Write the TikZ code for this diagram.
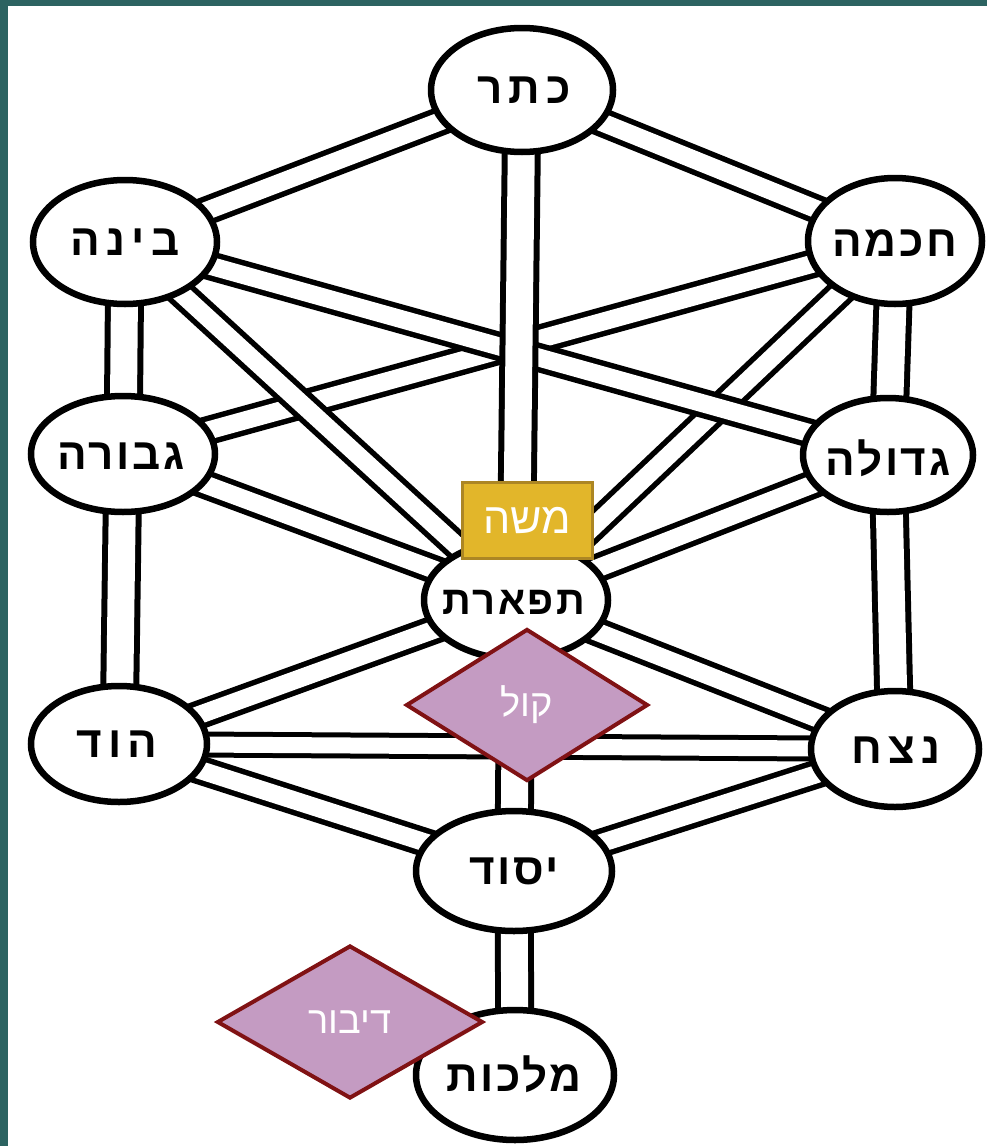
\documentclass[tikz,border=0pt]{standalone}
\usepackage{fontspec}
\usetikzlibrary{shapes.geometric}
\TeXXeTstate=1
\newfontfamily\hebfont[Script=Hebrew,LetterSpace=6]{Liberation Sans}
\newfontfamily\hebwide[Script=Hebrew,LetterSpace=14]{Liberation Sans}
\newfontfamily\labfont[Script=Hebrew]{Liberation Sans}
\definecolor{slideteal}{RGB}{44,99,97}
\definecolor{boxgold}{RGB}{226,182,42}
\definecolor{boxgoldedge}{RGB}{172,134,36}
\definecolor{dmfill}{RGB}{196,155,194}
\definecolor{dmedge}{RGB}{128,18,20}
\pgfdeclarelayer{back}
\pgfdeclarelayer{links}
\pgfsetlayers{back,links,main}
\tikzset{
  sefira/.style={ellipse, draw=black, line width=6.5pt, fill=white, inner sep=0pt},
  sefitext/.style={inner sep=0pt, font=\hebfont\bfseries\fontsize{44}{50}\selectfont},
  sefiwide/.style={inner sep=0pt, font=\hebwide\bfseries\fontsize{44}{50}\selectfont},
  sefinarrow/.style={inner sep=0pt, font=\hebfont\bfseries\fontsize{40}{46}\selectfont},
  link/.style={draw=black, line width=5.5pt, double=white, double distance=18pt},
  vlink/.style={draw=black, line width=6pt, double=white, double distance=27pt},
  hlink/.style={draw=black, line width=5pt, double=white, double distance=16pt},
  namebox/.style={rectangle, fill=boxgold, draw=boxgoldedge, line width=3pt, inner sep=0pt,
    minimum width=130pt, minimum height=76pt, text=white, font=\labfont\fontsize{43}{48}\selectfont},
  speech/.style={diamond, fill=dmfill, draw=dmedge, line width=4pt, inner sep=0pt,
    text=white, font=\labfont\fontsize{38}{42}\selectfont}
}
\begin{document}
\begin{tikzpicture}[x=1pt,y=-1pt]
\clip (0,0) rectangle (987,1146);
\useasboundingbox (0,0) rectangle (987,1146);
\begin{pgfonlayer}{back}
  \fill[slideteal] (0,0) rectangle (987,1146);
  \fill[white] (8,6) rectangle (987,1146);
\end{pgfonlayer}

% sefirot
\node[sefira, minimum width=182pt, minimum height=124pt] (keter)   at (522,90)  {};
\node[sefira, minimum width=184pt, minimum height=124pt] (bina)    at (125,242) {};
\node[sefira, minimum width=174pt, minimum height=126pt] (chochma) at (895,241) {};
\node[sefira, minimum width=184pt, minimum height=116pt] (gevura)  at (123,454) {};
\node[sefira, minimum width=170pt, minimum height=114pt] (gedula)  at (888,455) {};
\node[sefira, minimum width=184pt, minimum height=118pt] (tiferet) at (516,600) {};
\node[sefira, minimum width=176pt, minimum height=116pt] (hod)     at (119,744) {};
\node[sefira, minimum width=168pt, minimum height=116pt] (netzach) at (895,749) {};
\node[sefira, minimum width=196pt, minimum height=120pt] (yesod)   at (514,871) {};
\node[sefira, minimum width=198pt, minimum height=130pt] (malchut) at (515,1075) {};

\node[sefiwide] (keter-t)   at (524,90)  {\beginR כתר\endR};
\node[sefiwide] (bina-t)    at (bina)    {\beginR בינה\endR};
\node[sefitext] (chochma-t) at (895,243) {\beginR חכמה\endR};
\node[sefitext] (gevura-t)  at (121,456) {\beginR גבורה\endR};
\node[sefitext] (gedula-t)  at (888,458) {\beginR גדולה\endR};
\node[sefinarrow] (tiferet-t) at (514,602) {\beginR תפארת\endR};
\node[sefiwide] (hod-t)     at (117,744) {\beginR הוד\endR};
\node[sefiwide] (netzach-t) at (896,750) {\beginR נצח\endR};
\node[sefitext] (yesod-t)   at (yesod)   {\beginR יסוד\endR};
\node[sefitext] (malchut-t) at (514,1074) {\beginR מלכות\endR};

% connectors
\begin{pgfonlayer}{links}
  \draw[link] (keter.center) -- (bina.center);
  \draw[link] (keter.center) -- (chochma.center);
  \draw[link] (chochma.center) -- (gevura.center);
  \draw[link] (chochma.center) -- (tiferet.center);
  \draw[link] (bina.center) -- (gedula.center);
  \draw[link] (bina.center) -- (tiferet.center);
  \draw[link] (gevura.center) -- (tiferet.center);
  \draw[link] (gedula.center) -- (tiferet.center);
  \draw[vlink] (keter.center) -- (tiferet.center);
  \draw[vlink] (bina.center) -- (gevura.center);
  \draw[vlink] (chochma.center) -- (gedula.center);
  \draw[vlink] (gevura.center) -- (hod.center);
  \draw[vlink] (gedula.center) -- (netzach.center);
  \draw[link] (tiferet.center) -- (hod.center);
  \draw[link] (tiferet.center) -- (netzach.center);
  \draw[hlink] (hod.center) -- (netzach.center);
  \draw[link] (hod.center) -- (yesod.center);
  \draw[link] (netzach.center) -- (yesod.center);
  \draw[vlink] (tiferet.center) -- (yesod.center);
  \draw[vlink] (yesod.center) -- (malchut.center);
\end{pgfonlayer}

% overlays
\node[namebox] (moshe) at (527.5,520.5) {\beginR משה\endR};
\node[speech, minimum width=242pt, minimum height=152pt] (kol) at (527,705) {\beginR קול\endR};
\node[speech, minimum width=266pt, minimum height=153pt] (dibur) at (350,1022) {\beginR דיבור\endR};
\end{tikzpicture}
\end{document}
